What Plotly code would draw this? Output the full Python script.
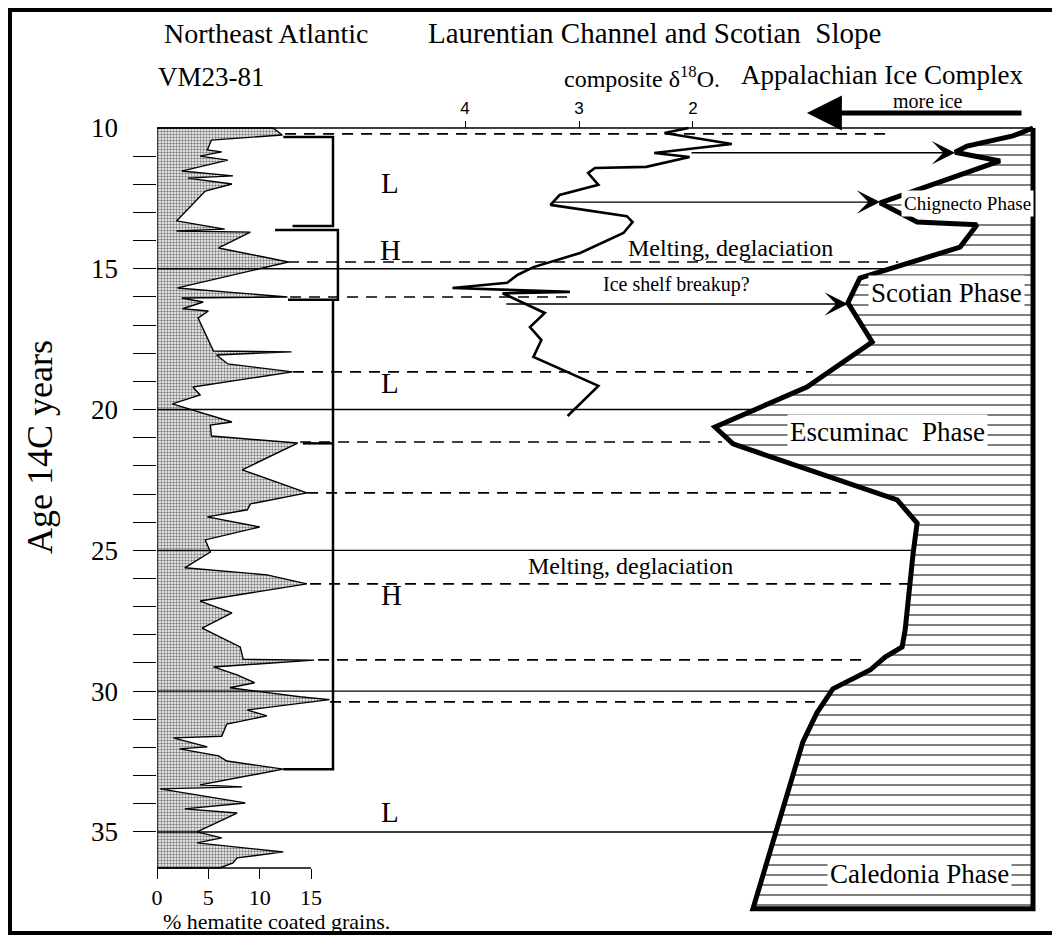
import plotly.graph_objects as go

SERIF = "Liberation Serif, Times New Roman, serif"
SANS = "Liberation Sans, Arial, sans-serif"

# VM23-81 hematite coated grains (%) against age (ka, 14C)
hem_pct = [11.3, 12.2, 5.3, 4.9, 6.3, 4.2, 6.9, 2.4, 7.4, 3.0, 7.3, 4.7,
           1.9, 6.6, 1.9, 9.1, 6.0, 12.8, 2.0, 12.7, 2.4, 4.5, 2.5, 5.0, 4.0,
           5.5, 13.1, 5.8, 6.9, 13.2, 3.5, 4.2, 1.5, 7.3, 5.2, 5.3, 13.7, 8.3,
           14.6, 9.1, 8.8, 4.9, 10.0, 4.7, 5.2, 2.7, 10.7, 14.6, 4.2, 7.3, 4.4,
           8.1, 8.4, 15.3, 5.5, 7.8, 9.5, 7.1, 13.9, 16.8, 8.8, 10.7, 6.8, 6.3, 1.6,
           4.9, 2.2, 6.0, 6.8, 12.3, 4.2, 8.3, 0.3, 8.6, 2.7, 7.8, 3.9, 6.3, 3.9,
           12.3, 7.8, 7.4, 6.1]
hem_age = [10.0, 10.25, 10.43, 10.78, 10.85, 11.0, 11.14, 11.53, 11.7, 11.78, 11.99, 12.24,
           13.3, 13.59, 13.66, 13.7, 14.26, 14.76, 15.68, 16.0, 16.04, 16.18, 16.42, 16.5, 16.75,
           17.92, 17.95, 18.06, 18.38, 18.66, 19.2, 19.48, 19.8, 20.44, 20.55, 20.94, 21.19, 22.14,
           22.96, 23.35, 23.56, 23.81, 24.17, 24.63, 25.06, 25.62, 25.87, 26.19, 26.8, 27.22, 27.76,
           28.43, 28.87, 28.9, 29.14, 29.42, 29.7, 29.88, 30.2, 30.3, 30.67, 30.88, 31.17, 31.6, 31.66,
           31.98, 32.05, 32.3, 32.48, 32.77, 33.33, 33.4, 33.47, 33.97, 34.18, 34.33, 35.0, 35.21, 35.39,
           35.71, 35.92, 36.1, 36.28]

# Laurentian Channel / Scotian Slope composite d18O
d18o = [2.04, 2.25, 1.66, 2.34, 2.03, 2.41, 2.86, 2.92, 2.83, 3.17, 3.25, 2.58, 2.53, 2.61,
        2.99, 3.40, 3.54, 3.63, 4.11, 3.08, 3.67, 3.30, 3.43, 3.33, 3.40, 2.83, 3.10]
d18o_age = [10.0, 10.18, 10.57, 10.89, 11.03, 11.38, 11.42, 11.6, 12.02, 12.38, 12.73, 13.13, 13.34, 13.73,
            14.44, 14.94, 15.22, 15.5, 15.68, 15.82, 15.87, 16.57, 17.07, 17.53, 18.13, 19.16, 20.23]

# Appalachian ice margin, relative extent west of the divide (arbitrary units)
ice_ext = [0, 6.0, 19.8, 23.4, 9.9, 45.9, 34.8, 16.8, 21.9, 52.0, 55.6, 48.3, 67.9, 95.5, 90.1,
           40.8, 34.8, 36.0, 38.4, 39.3, 44.4, 48.9, 60.1, 64.9, 69.1, 84.1]
ice_age = [10.0, 10.28, 10.64, 10.86, 11.17, 12.66, 13.34, 13.44, 14.23, 15.33, 16.21, 17.6, 19.2, 20.62, 21.22,
           23.21, 24.03, 25.1, 27.83, 28.43, 28.79, 29.25, 29.92, 30.77, 31.8, 37.73]
ice_base_age = 37.73

# L / H interval brackets (hematite units)
bracket_x = [12.3, 17.14, 17.14, 13.2, None, 11.5, 17.62, 17.62, 12.76, None,
             17.14, 17.14, 12.3, None, 14.2, 17.14]
bracket_y = [10.32, 10.32, 13.48, 13.48, None, 13.62, 13.62, 16.1, 16.1, None,
             16.1, 32.77, 32.77, None, 21.2, 21.2]

# correlation lines (ice-extent units): age, start, end
solid_age = [10.0, 15.0, 20.0, 25.0, 30.0, 35.0]
solid_from = [263.0, 263.0, 263.0, 263.0, 263.0, 263.0]
solid_to = [0.0, 42.9, 83.5, 36.0, 60.7, 77.2]
dash_age = [10.21, 14.76, 16.0, 18.66, 21.15, 22.96, 26.19, 28.89, 30.38]
dash_from = [224.6, 223.7, 223.1, 222.2, 220.1, 218.0, 217.1, 214.7, 211.1]
dash_to = [42.9, 40.5, 138.4, 66.1, 93.4, 55.9, 36.9, 49.8, 65.5]
arrow_age = [10.88, 12.63, 16.25]
arrow_from = [103.0, 144.4, 158.6]
arrow_to = [23.4, 45.9, 55.6]

age_ticks = [10, 15, 20, 25, 30, 35]
hem_ticks = [0, 5, 10, 15]
d18o_ticks = [4, 3, 2]

# page geometry (the page body adds an 8 px margin)
OFF = 8
X0, X1, Y0, Y1 = 157, 1045, 100, 915
W, H = 1060 - OFF, 938 - OFF


def px(x):
    return (x - X0) / (X1 - X0)


def py(y):
    return (Y1 - y) / (Y1 - Y0)


fig = go.Figure()

fig.add_trace(go.Scatter(
    x=[0] + hem_pct + [0, 0], y=[hem_age[0]] + hem_age + [hem_age[-1], hem_age[0]],
    xaxis="x", yaxis="y", mode="lines", fill="toself",
    fillcolor="white", fillpattern=dict(shape=".", size=3, solidity=0.5, fgcolor="black", bgcolor="white"),
    line=dict(color="black", width=1.4), hoverinfo="skip"))

fig.add_trace(go.Scatter(x=bracket_x, y=bracket_y, xaxis="x", yaxis="y", mode="lines",
                         line=dict(color="black", width=2.5), hoverinfo="skip"))

fig.add_trace(go.Scatter(x=d18o, y=d18o_age, xaxis="x2", yaxis="y", mode="lines",
                         line=dict(color="black", width=2.6), hoverinfo="skip"))

fig.add_trace(go.Scatter(
    x=ice_ext + [0, 0], y=ice_age + [ice_base_age, ice_age[0]],
    xaxis="x3", yaxis="y", mode="lines", fill="toself", fillcolor="white",
    fillpattern=dict(shape="-", size=10, solidity=0.2, fgcolor="black", bgcolor="white"),
    line=dict(color="black", width=5), hoverinfo="skip"))

shapes = []
for a, x0, x1 in zip(solid_age, solid_from, solid_to):
    shapes.append(dict(type="line", xref="x3", yref="y", x0=x0, x1=x1, y0=a, y1=a,
                       line=dict(color="black", width=1.4)))
for a, x0, x1 in zip(dash_age, dash_from, dash_to):
    shapes.append(dict(type="line", xref="x3", yref="y", x0=x0, x1=x1, y0=a, y1=a,
                       line=dict(color="black", width=1.6, dash="11px,8px")))
# hematite axis base line 0-15
shapes.append(dict(type="line", xref="x", yref="y", x0=0, x1=15, y0=hem_age[-1], y1=hem_age[-1],
                   line=dict(color="black", width=1.4)))
# outer frame
shapes.append(dict(type="rect", xref="paper", yref="paper", x0=px(10), x1=px(1055), y0=py(933), y1=py(10),
                   line=dict(color="black", width=4), layer="above"))

annotations = []
for a, x0, x1 in zip(arrow_age, arrow_from, arrow_to):
    annotations.append(dict(x=x1, y=a, ax=x0, ay=a, xref="x3", yref="y", axref="x3", ayref="y",
                            text="", showarrow=True, arrowhead=3, arrowsize=3, arrowwidth=1.3,
                            arrowcolor="black", standoff=0))
annotations.append(dict(x=67.9, y=9.47, ax=3.0, ay=9.47, xref="x3", yref="y", axref="x3", ayref="y",
                        text="", showarrow=True, arrowhead=2, arrowsize=1.4, arrowwidth=5,
                        arrowcolor="black", standoff=0))

texts = [
    ("Northeast Atlantic", 266, 33, 28),
    ("Laurentian Channel and Scotian\u00a0 Slope", 654, 33, 29),
    ("VM23-81", 211, 77, 27),
    ("composite \u03b4<sup>18</sup>O.", 642, 77, 24),
    ("Appalachian Ice Complex", 882, 75, 27),
    ("more ice", 928, 101, 20),
    ("L", 390, 183, 29), ("H", 390, 250, 29), ("L", 390, 383, 29),
    ("H", 391, 595, 29), ("L", 390, 812, 29),
    ("Melting, deglaciation", 730, 248, 24),
    ("Melting, deglaciation", 630, 566, 24),
    ("Ice shelf breakup?", 676, 284, 20),
    ("% hematite coated grains.", 276, 921, 22),
]
for t, x, y, s in texts:
    annotations.append(dict(text=t, x=px(x), y=py(y), xref="paper", yref="paper", showarrow=False,
                            xanchor="center", yanchor="middle", font=dict(family=SERIF, size=s, color="black")))

phases = [("Chignecto Phase", 967, 203, 19), ("Scotian Phase", 946, 293, 27),
          ("Escuminac\u00a0 Phase", 887, 432, 27), ("Caledonia Phase", 919, 874, 27)]
for t, x, y, s in phases:
    annotations.append(dict(text=t, x=px(x), y=py(y), xref="paper", yref="paper", showarrow=False,
                            xanchor="center", yanchor="middle", bgcolor="white", borderpad=2,
                            font=dict(family=SERIF, size=s, color="black")))

annotations.append(dict(text="Age 14C years", x=px(40), y=py(447), xref="paper", yref="paper",
                        showarrow=False, textangle=-90, xanchor="center", yanchor="middle",
                        font=dict(family=SERIF, size=36, color="black")))

fig.update_layout(
    width=W, height=H, margin=dict(l=X0 - OFF, r=1060 - X1, t=Y0 - OFF, b=938 - Y1),
    paper_bgcolor="white", plot_bgcolor="rgba(0,0,0,0)", showlegend=False,
    shapes=shapes, annotations=annotations,
    xaxis=dict(domain=[0, px(345)], range=[0, 18.31], anchor="free", position=py(868),
               showgrid=False, zeroline=False, showline=False,
               tickmode="array", tickvals=hem_ticks, ticks="outside", ticklen=10, tickwidth=1.4,
               tickcolor="black", tickfont=dict(family=SERIF, size=22, color="black")),
    xaxis2=dict(domain=[0, 1], range=[6.702, -1.088], anchor="free", position=py(128), side="top",
                showgrid=False, zeroline=False, showline=False,
                tickmode="array", tickvals=d18o_ticks, ticks="outside", ticklen=7, tickwidth=1,
                tickcolor="black", tickfont=dict(family=SANS, size=17, color="black")),
    xaxis3=dict(domain=[0, 1], range=[263.06, -3.60], anchor="y", visible=False,
                showgrid=False, zeroline=False),
    yaxis=dict(domain=[0, 1], range=[37.95, 9.006], anchor="x", showgrid=False, zeroline=False,
               showline=False, tickmode="array", tickvals=age_ticks, ticks="",
               ticklabelstandoff=38, tickfont=dict(family=SERIF, size=27, color="black"),
               minor=dict(tickmode="array", tickvals=list(range(11, 36)), ticks="outside",
                          ticklen=23, tickwidth=1.4, tickcolor="black")),
)

fig.write_html("out.html")
